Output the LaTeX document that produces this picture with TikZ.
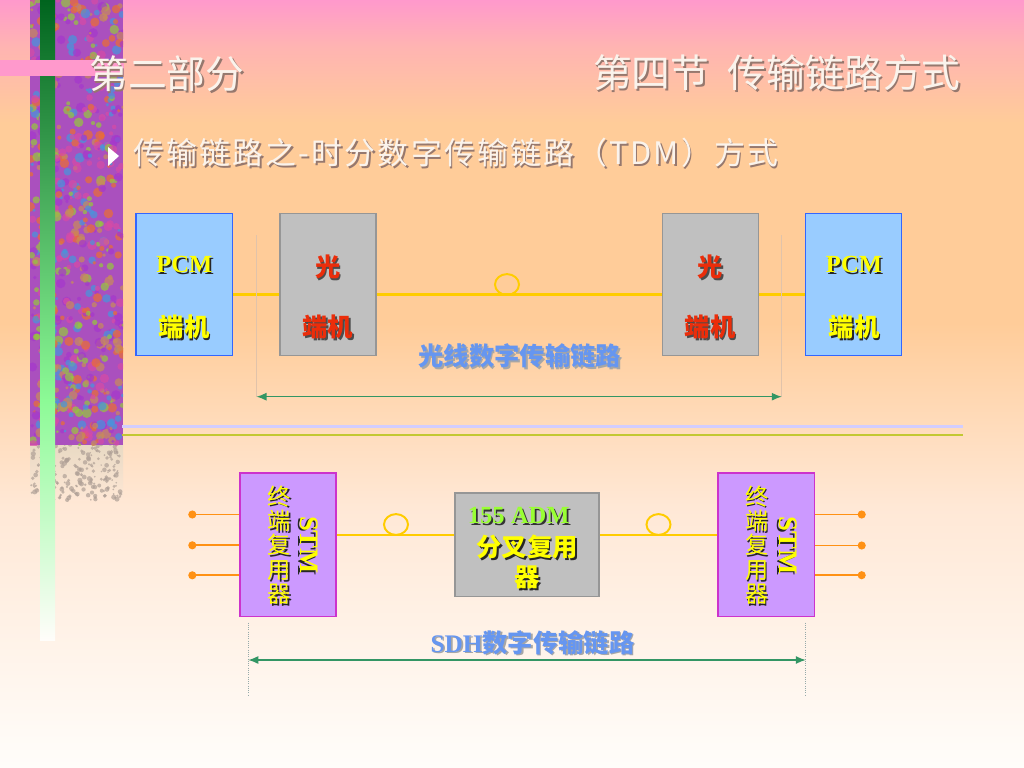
\documentclass[tikz,border=0pt]{standalone}
\usepackage{fontspec}
\setmainfont{Liberation Serif}
\newfontfamily\cjk{Noto Sans CJK SC}
\newfontfamily\cjkwide[LetterSpace=7]{Noto Sans CJK SC}
\usetikzlibrary{arrows.meta,shapes.geometric}

\definecolor{bgpink}{RGB}{255,153,204}
\definecolor{bgrose}{RGB}{255,180,178}
\definecolor{bgpeach}{RGB}{255,204,153}
\definecolor{bglight}{RGB}{255,232,214}
\definecolor{bgwhite}{RGB}{255,253,250}
\definecolor{bardark}{RGB}{0,100,30}
\definecolor{barmid}{RGB}{70,170,90}
\definecolor{barlight}{RGB}{140,250,150}
\definecolor{stripbase}{RGB}{170,80,190}
\definecolor{stripbeige}{RGB}{225,215,195}
\definecolor{stripgray}{RGB}{175,160,150}
\definecolor{blobc0}{RGB}{165,55,205}
\definecolor{blobc1}{RGB}{215,75,165}
\definecolor{blobc2}{RGB}{150,200,60}
\definecolor{blobc3}{RGB}{235,110,50}
\definecolor{blobc4}{RGB}{70,150,220}
\definecolor{blobc5}{RGB}{200,140,90}
\definecolor{pcmfill}{RGB}{153,204,255}
\definecolor{pcmdraw}{RGB}{51,102,255}
\definecolor{optfill}{RGB}{192,192,192}
\definecolor{optdraw}{RGB}{150,150,150}
\definecolor{stmfill}{RGB}{204,153,255}
\definecolor{stmdraw}{RGB}{204,51,204}
\definecolor{fibreyellow}{RGB}{255,204,0}
\definecolor{tieorange}{RGB}{255,145,20}
\definecolor{spangreen}{RGB}{51,150,100}
\definecolor{guidetan}{RGB}{225,195,170}
\definecolor{guidegray}{RGB}{150,170,170}
\definecolor{sepviolet}{RGB}{210,205,255}
\definecolor{sepolive}{RGB}{195,200,50}
\definecolor{txtyellow}{RGB}{255,255,0}
\definecolor{txtred}{RGB}{235,45,10}
\definecolor{txtlime}{RGB}{153,255,51}
\definecolor{txtblue}{RGB}{102,150,240}
\definecolor{titlewhite}{RGB}{250,243,236}
\definecolor{titleshade}{RGB}{150,120,110}

\pgfdeclareverticalshading{slidebg}{100bp}{color(0bp)=(bgwhite); color(25bp)=(bgwhite); color(42bp)=(bglight); color(54bp)=(bgpeach); color(67bp)=(bgpeach); color(72bp)=(bgrose); color(75bp)=(bgpink); color(100bp)=(bgpink)}

% text with a drop shadow
\newcommand{\dropsh}[4][1.2pt]{\makebox[0pt][l]{\hspace*{#1}\raisebox{-#1}{\color{#3}#4}}{\color{#2}#4}}
\newcommand{\yellowsh}[1]{\dropsh{txtyellow}{black!85}{#1}}
\newcommand{\redsh}[1]{\dropsh{txtred}{black!70}{#1}}
\newcommand{\limesh}[1]{\dropsh{txtlime}{black!80}{#1}}
\newcommand{\bluesh}[1]{\dropsh{txtblue}{black!35}{#1}}
\newcommand{\palesh}[1]{\dropsh{titlewhite}{titleshade}{#1}}

\begin{document}
\begin{tikzpicture}[
    x=0.025cm, y=-0.025cm,
    box/.style={rectangle, line width=1pt, minimum width=2.4cm, minimum height=3.5625cm, inner sep=0pt},
    pcmbox/.style={box, draw=pcmdraw, fill=pcmfill},
    optbox/.style={box, draw=optdraw, fill=optfill},
    stmbox/.style={box, draw=stmdraw, fill=stmfill, minimum height=3.575cm},
    admbox/.style={box, draw=optdraw, fill=optfill, minimum width=3.6cm, minimum height=2.575cm},
    latinbold/.style={inner sep=0pt, font=\bfseries\fontsize{17.5pt}{20pt}\selectfont},
    cjkbold/.style={inner sep=0pt, font=\cjk\bfseries\fontsize{18pt}{20pt}\selectfont},
    column/.style={inner sep=0pt, align=center, font=\cjk\fontsize{16.5pt}{17.4pt}\selectfont},
    stmtag/.style={inner sep=0pt, rotate=-90, font=\bfseries\fontsize{19pt}{20pt}\selectfont},
    linklabel/.style={inner sep=0pt, font=\cjk\bfseries\fontsize{18pt}{20pt}\selectfont},
    titletext/.style={inner sep=0pt, font=\cjk\fontsize{27.6pt}{30pt}\selectfont},
    subtext/.style={inner sep=0pt, font=\cjkwide\fontsize{22pt}{24pt}\selectfont},
    fibre/.style={draw=fibreyellow, line width=2pt},
    coil/.style={ellipse, draw=fibreyellow, line width=1.4pt, minimum width=0.6cm, minimum height=0.52cm, inner sep=0pt},
    tie/.style={draw=tieorange, line width=1.2pt, {Circle[length=0.2cm]}-},
    span/.style={draw=spangreen, line width=0.9pt, {Latex[length=0.25cm,width=0.2cm]}-{Latex[length=0.25cm,width=0.2cm]}},
    guide/.style={draw=guidetan, line width=0.5pt},
    dotguide/.style={draw=guidegray, line width=0.6pt, densely dotted}
]
\useasboundingbox (0,0) rectangle (1024,768);

% Slide background
\shade[shading=slidebg] (0,0) rectangle (1024,768);

% Left decoration strip
\shade[top color=stripbeige, bottom color=bglight, opacity=0.8] (30,440) rectangle (123,500);
\pgfmathsetseed{17}
\foreach \k in {1,...,260}{
  \pgfmathsetmacro{\bx}{31+91*rnd}
  \pgfmathsetmacro{\by}{435+65*rnd}
  \pgfmathsetmacro{\br}{0.8+1.8*rnd}
  \fill[stripgray, opacity=0.7] (\bx,\by) circle (\br);
}
\begin{scope}
\clip (30,0) rectangle (123,445);
\fill[stripbase] (30,0) rectangle (123,445);
\foreach \k in {1,...,700}{
  \pgfmathsetmacro{\bx}{30+93*rnd}
  \pgfmathsetmacro{\by}{445*rnd}
  \pgfmathsetmacro{\br}{1.5+3.5*rnd}
  \pgfmathtruncatemacro{\bc}{mod(\k,6)}
  \fill[blobc\bc, opacity=0.7] (\bx,\by) circle (\br);
}
\end{scope}
\shade[top color=bardark, bottom color=barmid] (40,0) rectangle (55,190);
\shade[top color=barmid, bottom color=barlight] (40,190) rectangle (55,400);
\shade[top color=barlight, bottom color=bgwhite] (40,400) rectangle (55,640);
\fill[bgpink] (0,60) rectangle (124,76);

% Titles
\node[titletext, anchor=west] (partTitle) at (89,75) {\palesh{第二部分}};
\node[titletext, anchor=east] (secTitle) at (961,74) {\palesh{第四节\hspace{13pt}传输链路方式}};
\fill[white] (108,147) -- (119,156) -- (108,166) -- cycle;
\node[subtext, anchor=west] (subTitle) at (133,154) {\palesh{传输链路之-时分数字传输链路（TDM）方式}};

% Optical link
\node[pcmbox] (pcmL) at (184.2,284.5) {};
\node[optbox] (optL) at (327.9,284.5) {};
\node[optbox] (optR) at (710.3,284.5) {};
\node[pcmbox] (pcmR) at (853.7,284.5) {};

\node[latinbold] (pcmLa) at (184.3,265.7) {\yellowsh{PCM}};
\node[cjkbold] (pcmLb) at (184.3,328) {\yellowsh{端机}};
\node[cjkbold] (optLa) at (327.9,268) {\redsh{光}};
\node[cjkbold] (optLb) at (327.9,328) {\redsh{端机}};
\node[cjkbold] (optRa) at (710.3,268) {\redsh{光}};
\node[cjkbold] (optRb) at (710.3,328) {\redsh{端机}};
\node[latinbold] (pcmRa) at (854,265.7) {\yellowsh{PCM}};
\node[cjkbold] (pcmRb) at (854,328) {\yellowsh{端机}};

\coordinate (linkT) at (0,294.3);
\draw[fibre] (pcmL.east |- linkT) -- (optL.west |- linkT);
\draw[fibre] (optL.east |- linkT) -- (optR.west |- linkT);
\draw[fibre] (optR.east |- linkT) -- (pcmR.west |- linkT);
\node[coil] (coilT) at (507,284.5) {};

\coordinate (guideTL) at (256.5,235);
\coordinate (guideTR) at (781.8,235);
\coordinate (spanTL) at (256.5,396.7);
\coordinate (spanTR) at (781.8,396.7);
\draw[guide] (guideTL) -- (spanTL);
\draw[guide] (guideTR) -- (spanTR);
\draw[span] (spanTL) -- (spanTR);
\node[linklabel] (fibreLabel) at (519.7,356.7) {\bluesh{光线数字传输链路}};

% Separator
\draw[sepviolet, line width=2.6pt] (122,426.6) -- (963,426.6);
\draw[sepolive, line width=1.6pt] (122,434.8) -- (963,434.8);

% SDH link
\node[stmbox] (stmL) at (287.9,544.7) {};
\node[admbox] (adm) at (527,544.7) {};
\node[stmbox] (stmR) at (766.2,544.7) {};

\node[column] (stmLcol) at (279,546) {\yellowsh{终}\\ \yellowsh{端}\\ \yellowsh{复}\\ \yellowsh{用}\\ \yellowsh{器}};
\node[stmtag] (stmLtag) at (308.3,545) {\yellowsh{STM}};
\node[column] (stmRcol) at (756.7,546) {\yellowsh{终}\\ \yellowsh{端}\\ \yellowsh{复}\\ \yellowsh{用}\\ \yellowsh{器}};
\node[stmtag] (stmRtag) at (787.5,545.5) {\yellowsh{STM}};
\node[latinbold] (admA) at (518.8,516.7) {\limesh{155 ADM}};
\node[cjkbold] (admB) at (527,547.7) {\yellowsh{分叉复用}};
\node[cjkbold] (admC) at (527,578.3) {\yellowsh{器}};

\coordinate (linkB) at (0,535);
\draw[fibre] (stmL.east |- linkB) -- (adm.west |- linkB);
\draw[fibre] (adm.east |- linkB) -- (stmR.west |- linkB);
\node[coil] (coilBL) at (396,524.5) {};
\node[coil] (coilBR) at (658.5,524.5) {};

\coordinate (tieL1) at (188.3,514.5);
\coordinate (tieL2) at (188.3,545.3);
\coordinate (tieL3) at (188.3,575.3);
\coordinate (tieR1) at (865.7,514.5);
\coordinate (tieR2) at (865.7,545.5);
\coordinate (tieR3) at (865.7,575.2);
\draw[tie] (tieL1) -- (stmL.west |- tieL1);
\draw[tie] (tieL2) -- (stmL.west |- tieL2);
\draw[tie] (tieL3) -- (stmL.west |- tieL3);
\draw[tie] (tieR1) -- (stmR.east |- tieR1);
\draw[tie] (tieR2) -- (stmR.east |- tieR2);
\draw[tie] (tieR3) -- (stmR.east |- tieR3);

\coordinate (guideBLt) at (248.3,622.5);
\coordinate (guideBLb) at (248.3,696.5);
\coordinate (guideBRt) at (805.8,622.5);
\coordinate (guideBRb) at (805.8,696.5);
\coordinate (spanBL) at (248.3,660);
\coordinate (spanBR) at (805.8,660);
\draw[dotguide] (guideBLt) -- (guideBLb);
\draw[dotguide] (guideBRt) -- (guideBRb);
\draw[span] (spanBL) -- (spanBR);
\node[linklabel] (sdhLabel) at (532.5,643.3) {\bluesh{{\rmfamily SDH}数字传输链路}};
\end{tikzpicture}
\end{document}
